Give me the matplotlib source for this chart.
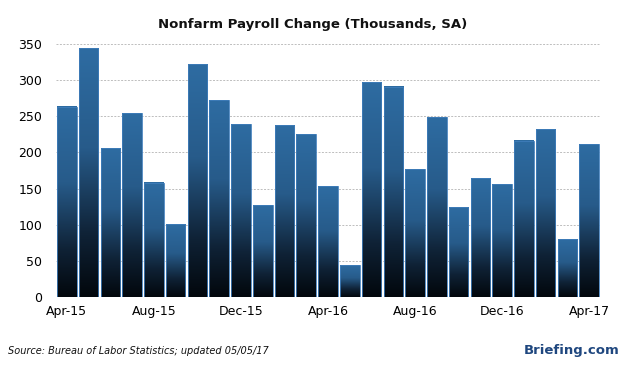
import numpy as np
import matplotlib.pyplot as plt
from matplotlib.colors import LinearSegmentedColormap

months = ["Apr-15", "May-15", "Jun-15", "Jul-15", "Aug-15", "Sep-15", "Oct-15",
          "Nov-15", "Dec-15", "Jan-16", "Feb-16", "Mar-16", "Apr-16", "May-16",
          "Jun-16", "Jul-16", "Aug-16", "Sep-16", "Oct-16", "Nov-16", "Dec-16",
          "Jan-17", "Feb-17", "Mar-17", "Apr-17"]
payrolls = [263, 344, 206, 254, 158, 101, 322, 272, 239, 127, 238, 225, 153, 44,
            297, 291, 177, 249, 124, 164, 156, 216, 232, 80, 211]
tick_labels = ["Apr-15", "Aug-15", "Dec-15", "Apr-16", "Aug-16", "Dec-16", "Apr-17"]
yticks = [0, 50, 100, 150, 200, 250, 300, 350]

fig = plt.figure(figsize=(6.26, 3.67), dpi=100)
ax = fig.add_axes([0.0895, 0.191, 0.869, 0.689])

# blue at the top of each bar fading to black at the base
cmap = LinearSegmentedColormap.from_list(
    "bar", [(0.0, "#02070c"), (0.25, "#0f2236"), (0.6, "#275b8a"), (1.0, "#2e6ca2")])
grad = np.linspace(0, 1, 256).reshape(-1, 1)

x = np.arange(len(payrolls))
w = 0.9
for xi, v in zip(x, payrolls):
    ax.imshow(grad, cmap=cmap, origin="lower", aspect="auto",
              extent=(xi - w / 2, xi + w / 2, 0, v), zorder=2, interpolation="bilinear")
ax.bar(x, payrolls, width=w, facecolor="none", edgecolor="#3f7dbb", linewidth=0.6, zorder=3)

ax.set_xlim(-0.5, len(payrolls) - 0.5)
ax.set_ylim(0, 350)
ax.set_yticks(yticks)
ax.set_yticklabels([str(t) for t in yticks], fontsize=9)
pos = [months.index(m) for m in tick_labels]
ax.set_xticks(pos)
ax.set_xticklabels(tick_labels, fontsize=9)
ax.tick_params(length=0, pad=6)
ax.tick_params(axis="y", pad=10)
for s in ax.spines.values():
    s.set_visible(False)
for t in yticks[1:]:
    ax.axhline(t, color="#bdbdbd", linestyle=(0, (2, 1.5)), linewidth=0.7, zorder=1)

fig.text(0.5, 0.924, "Nonfarm Payroll Change (Thousands, SA)", ha="center",
         fontsize=9.5, fontweight="bold", color="#111111")
fig.text(0.013, 0.035, "Source: Bureau of Labor Statistics; updated 05/05/17",
         fontsize=7, style="italic", color="#111111")
fig.text(0.99, 0.035, "Briefing.com", ha="right", fontsize=9.5,
         fontweight="bold", color="#1f477f")

fig.savefig("out.png", dpi=100)
